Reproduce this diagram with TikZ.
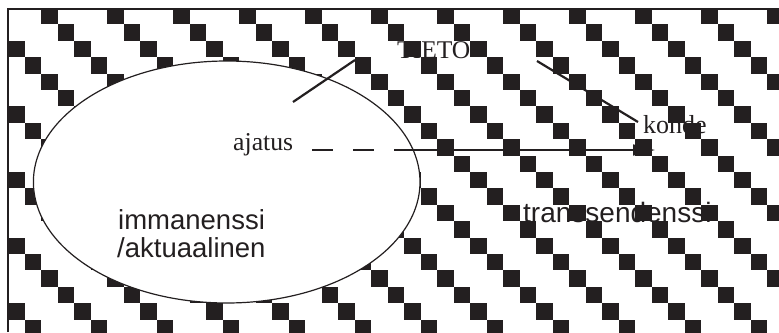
\documentclass[tikz,border=0pt]{standalone}
\usepackage{fontspec}
\setmainfont{Liberation Serif}
\setsansfont{Liberation Sans}
\usetikzlibrary{shapes.geometric,arrows.meta}
\definecolor{ink}{RGB}{35,31,32}
\tikzset{
  serifword/.style={inner sep=0pt, anchor=base west, text=ink},
  sansword/.style={inner sep=0pt, anchor=base west, text=ink, font=\sffamily\fontsize{27.5}{28}\selectfont},
  conn/.style={draw=ink, line width=2.2pt},
  thinconn/.style={draw=ink, line width=1.6pt},
}
\begin{document}
\begin{tikzpicture}[x=1pt,y=-1pt]
\useasboundingbox (0,0) rectangle (779,332);
% checker staircase pattern
\begin{scope}
\clip (8,8) rectangle (779,332);
\foreach \r in {0,...,19} {
  \foreach \c in {0,...,46} {
    \pgfmathtruncatemacro\m{mod(\c-\r+400,4)}
    \ifnum\m=2
      \fill[ink] ({8+\c*16.5},{8+\r*16.4}) rectangle ++(16.5,16.4);
    \fi
  }
}
\end{scope}
% frame
\draw[ink, line width=1.5pt] (8,332) -- (8,9) -- (779,9);
% ellipse
\node[ellipse, draw=ink, fill=white, line width=1.2pt, minimum width=386.6pt,
      minimum height=242pt, inner sep=0pt] (mind) at (226.7,182) {};
% texts
\node[serifword, font=\fontsize{25.5}{28}\selectfont] (tieto) at (397,58) {TIETO};
\node[serifword, font=\fontsize{25.7}{28}\selectfont] (ajatus) at (233,150) {ajatus};
\node[serifword, font=\fontsize{26}{28}\selectfont] (kohde) at (643,133) {kohde};
\node[sansword] (imm) at (118,229) {immanenssi};
\node[sansword] (akt) at (117,257) {/aktuaalinen};
\node[sansword, font=\sffamily\fontsize{28}{28}\selectfont] (trans) at (523,222) {transsendenssi};
% connectors
\coordinate (t1) at (293,102); \coordinate (t2) at (355,60);
\draw[conn] (t1) -- (t2);
\coordinate (k1) at (537,61); \coordinate (k2) at (638,122);
\draw[conn] (k1) -- (k2);
\coordinate (a1) at (312,150); \coordinate (a2) at (413,150); \coordinate (a3) at (655,150);
\draw[thinconn, dash pattern=on 21pt off 20pt] (a1) -- (a2);
\draw[thinconn, -{Triangle[length=22pt,width=11pt]}] (a2) -- (a3);
\end{tikzpicture}
\end{document}
